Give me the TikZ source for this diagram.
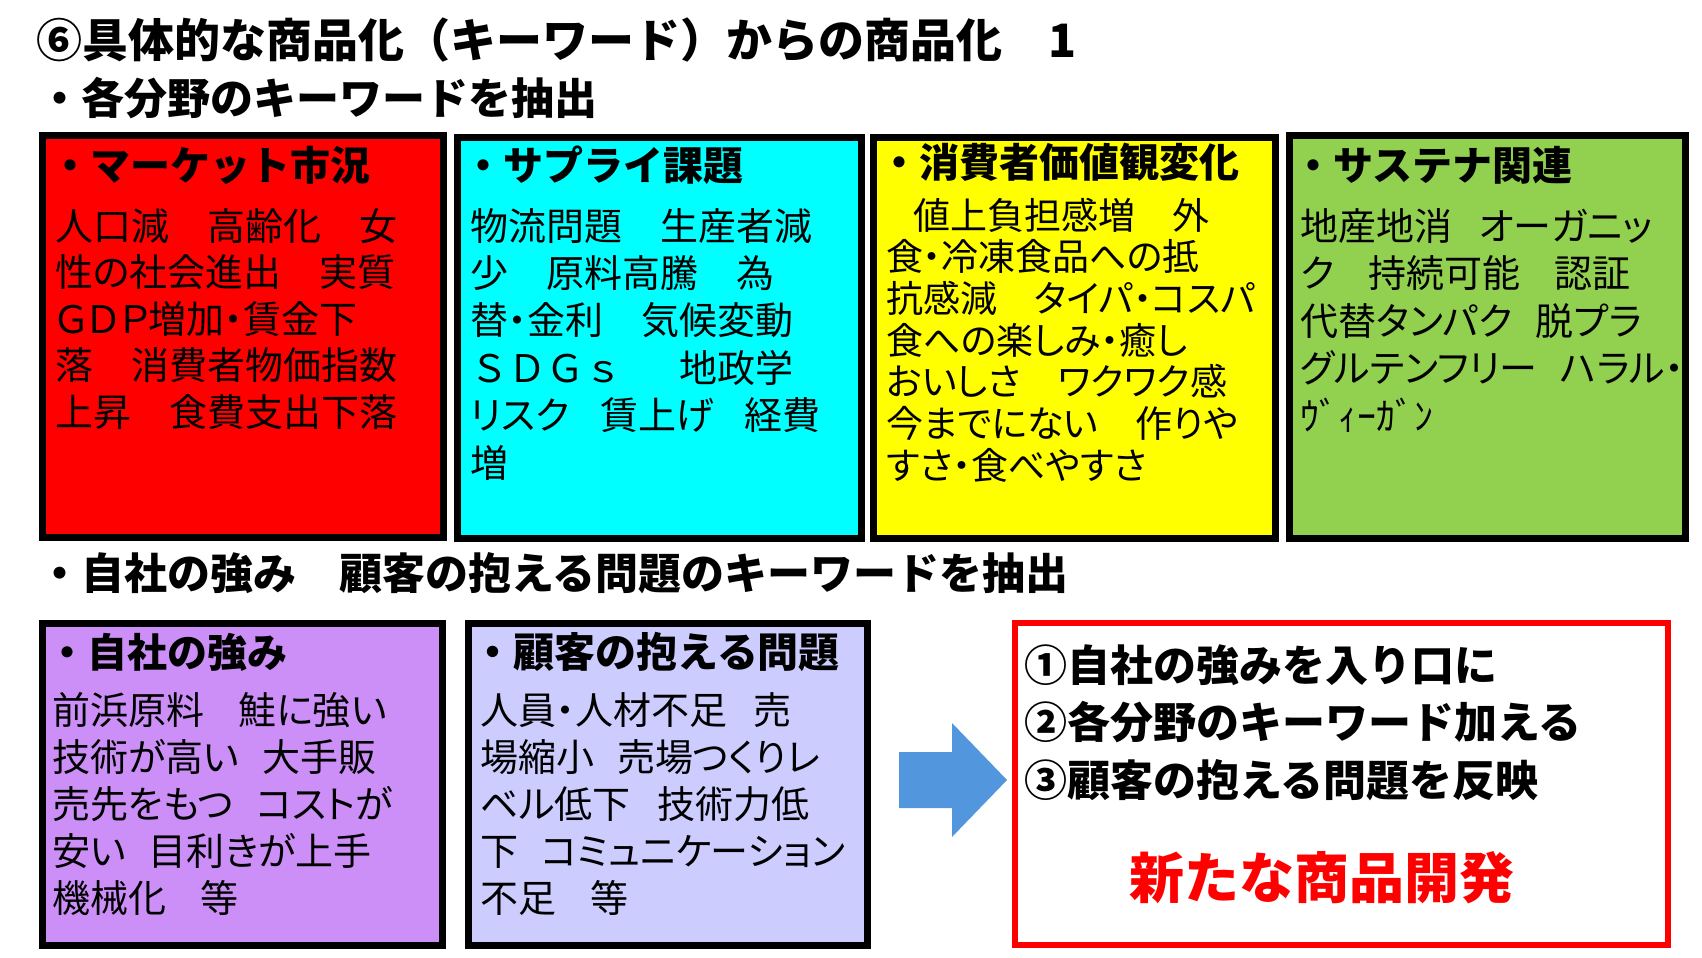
\documentclass[tikz,border=0pt]{standalone}
\usepackage{fontspec}
\newfontfamily\jp{Noto Sans CJK JP}
\newfontfamily\jpp{Noto Sans CJK JP}[RawFeature=+palt]
\definecolor{cred}{RGB}{255,0,0}
\definecolor{ccyan}{RGB}{0,255,255}
\definecolor{cyel}{RGB}{255,255,0}
\definecolor{cgreen}{RGB}{146,208,80}
\definecolor{cpurp}{RGB}{204,143,248}
\definecolor{clav}{RGB}{204,204,255}
\definecolor{carrow}{RGB}{82,151,221}
\newcommand\gap[1]{\hspace*{#1em}}
\begin{document}
\begin{tikzpicture}[x=1pt,y=-1pt,
  card/.style={draw=black, line width=7pt, inner sep=0pt, anchor=north west},
  head/.style={anchor=base west, inner sep=0pt, font=\jp\bfseries\fontsize{43}{50}\selectfont},
  ttl/.style={anchor=base west, inner sep=0pt, font=\jp\bfseries\fontsize{40}{48}\selectfont},
  body/.style={anchor=base west, inner sep=0pt, align=left, text width=395pt, font=\jpp\fontsize{38}{46.5}\selectfont},
  lst/.style={anchor=base west, inner sep=0pt, align=left, text width=620pt, font=\jp\bfseries\fontsize{43}{57.5}\selectfont}
]
\useasboundingbox (0,0) rectangle (1702,958);
\fill[white] (0,0) rectangle (1702,958);

% headings
\node[head, font=\jp\bfseries\fontsize{46}{52}\selectfont] (h1) at (36,58) {⑥具体的な商品化（キーワード）からの商品化　1};
\node[head] (h2) at (38,114) {・各分野のキーワードを抽出};
\node[head] (h3) at (38,589) {・自社の強み　顧客の抱える問題のキーワードを抽出};

% top cards
\node[card, fill=cred,   minimum width=401, minimum height=402] (b1) at (38.5,131.5) {};
\node[card, fill=ccyan,  minimum width=404, minimum height=401] (b2) at (453.5,133.5) {};
\node[card, fill=cyel,   minimum width=402, minimum height=401] (b3) at (869.5,133.5) {};
\node[card, fill=cgreen, minimum width=396, minimum height=403] (b4) at (1285.5,131.5) {};

\node[ttl] (t1) at (50,180) {・マーケット市況};
\node[ttl] (t2) at (463,180) {・サプライ課題};
\node[ttl] (t3) at (879,177) {・消費者価値観変化};
\node[ttl] (t4) at (1293,180) {・サステナ関連};

\node[body] (x1) at (55,240) {人口減　高齢化　女\\性の社会進出　実質\\ＧＤＰ増加・賃金下\\落　消費者物価指数\\上昇　食費支出下落};
\node[body, font=\jpp\fontsize{38}{47.4}\selectfont] (x2) at (470,240) {物流問題　生産者減\\少　原料高騰　為\\替・金利　気候変動\\{\jp ＳＤＧｓ}\gap{1.5}地政学\\リスク\gap{0.8}賃上げ\gap{0.8}経費\\増};
\node[body, font=\jpp\fontsize{37}{41.7}\selectfont] (x3) at (886,229) {\gap{0.75}値上負担感増　外\\食・冷凍食品への抵\\抗感減　タイパ・コスパ\\食への楽しみ・癒し\\おいしさ　ワクワク感\\今までにない　作りや\\すさ・食べやすさ};
\node[body, font=\jpp\fontsize{38}{47.5}\selectfont] (x4) at (1300,240) {地産地消\gap{0.7}オーガニッ\\ク\gap{0.9}持続可能\gap{0.9}認証\\代替タンパク\gap{0.6}脱プラ\\グルテンフリー\gap{0.6}ハラル・\\ｳﾞｨｰｶﾞﾝ};

% bottom cards
\node[card, fill=cpurp, minimum width=400, minimum height=322] (b5) at (38.5,619.5) {};
\node[card, fill=clav,  minimum width=399, minimum height=322] (b6) at (464.5,619.5) {};

\node[ttl] (t5) at (47,667) {・自社の強み};
\node[ttl, font=\jp\bfseries\fontsize{41}{48}\selectfont] (t6) at (472,667) {・顧客の抱える問題};

\node[body, font=\jpp\fontsize{38}{47}\selectfont] (x5) at (52,724) {前浜原料\gap{0.9}鮭に強い\\技術が高い\gap{0.6}大手販\\売先をもつ\gap{0.6}コストが\\安い\gap{0.6}目利きが上手\\機械化\gap{0.9}等};
\node[body, font=\jpp\fontsize{38}{47}\selectfont] (x6) at (480,724) {人員・人材不足\gap{0.7}売\\場縮小\gap{0.6}売場つくりレ\\ベル低下\gap{0.7}技術力低\\下\gap{0.6}コミュニケーション\\不足\gap{0.9}等};

% arrow
\fill[carrow] (899,752) -- (952,752) -- (952,723) -- (1007,780) -- (952,837) -- (952,808) -- (899,808) -- cycle;

% result box
\node[card, draw=cred, line width=6pt, fill=white, minimum width=653, minimum height=322] (b7) at (1012,620) {};
\node[lst] (l1) at (1024,681) {①自社の強みを入り口に\\②各分野のキーワード加える\\③顧客の抱える問題を反映};
\node[anchor=base west, inner sep=0pt, text=cred, font=\jp\bfseries\fontsize{55}{62}\selectfont] (nd) at (1129,898) {新たな商品開発};
\end{tikzpicture}
\end{document}
